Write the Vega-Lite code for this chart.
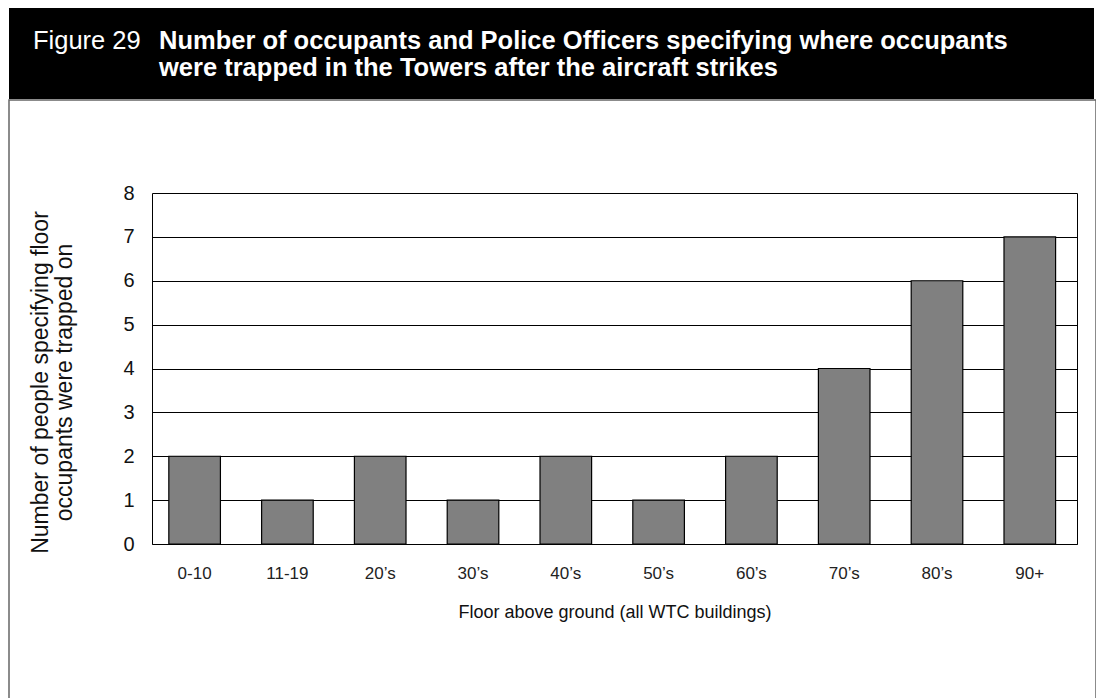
{
  "$schema": "https://vega.github.io/schema/vega-lite/v6.json",
  "padding": {"left": 8, "top": 8, "right": 0, "bottom": 0},
  "background": "white",
  "spacing": 0,
  "title": {"text": "Figure 29", "anchor": "start", "frame": "group", "offset": -46, "dx": 24, "color": "white", "font": "Liberation Sans", "fontSize": 25.5, "fontWeight": "normal"},
  "config": {"view": {"stroke": null}, "font": "Liberation Sans"},
  "datasets": {
    "floors": [
      {"floor": "0-10", "count": 2},
      {"floor": "11-19", "count": 1},
      {"floor": "20’s", "count": 2},
      {"floor": "30’s", "count": 1},
      {"floor": "40’s", "count": 2},
      {"floor": "50’s", "count": 1},
      {"floor": "60’s", "count": 2},
      {"floor": "70’s", "count": 4},
      {"floor": "80’s", "count": 6},
      {"floor": "90+", "count": 7}
    ]
  },
  "vconcat": [
    {
      "width": 1085,
      "height": 91,
      "view": {"fill": "black", "stroke": null},
      "data": {"values": [{"t": ""}]},
      "mark": {"type": "text"},
      "encoding": {"text": {"field": "t"}},
      "title": {
        "text": ["Number of occupants and Police Officers specifying where occupants", "were trapped in the Towers after the aircraft strikes"],
        "anchor": "start", "frame": "group", "offset": -73, "dx": 150,
        "color": "white", "font": "Liberation Sans", "fontSize": 25.5, "fontWeight": "bold", "lineHeight": 26.5
      }
    },
    {
      "width": 1087,
      "height": 600,
      "view": {"fill": "white", "stroke": "#666666", "strokeWidth": 1.5},
      "data": {"name": "floors"},
      "layer": [
        {
          "mark": {"type": "bar", "fill": "#808080", "stroke": "black", "strokeWidth": 1.2},
          "encoding": {
            "x": {
              "field": "floor", "type": "nominal", "sort": null,
              "scale": {"range": [143, 1068], "paddingInner": 0.444, "paddingOuter": 0.206, "align": 0.44},
              "axis": {
                "orient": "bottom", "offset": -156, "domain": true, "domainColor": "black", "domainWidth": 1,
                "ticks": false, "tickSize": 0, "labelPadding": 21, "labelFontSize": 17, "labelAngle": 0, "labelColor": "#222222",
                "grid": false,
                "title": "Floor above ground (all WTC buildings)", "titleFontSize": 18, "titleFontWeight": "normal", "titleColor": "#111111",
                "titleY": 73, "titleBaseline": "alphabetic"
              }
            },
            "y": {
              "field": "count", "type": "quantitative",
              "scale": {"domain": [0, 8], "range": [444, 93], "nice": false, "zero": true},
              "axis": {
                "orient": "left", "offset": -143, "domain": true, "domainColor": "black", "domainWidth": 1,
                "ticks": false, "tickSize": 0, "labelPadding": 18, "labelFontSize": 20, "labelColor": "#111111",
                "values": [0, 1, 2, 3, 4, 5, 6, 7, 8],
                "grid": true, "gridColor": "black", "gridWidth": 1, "gridOpacity": 1,
                "title": ["Number of people specifying floor", "occupants were trapped on"],
                "titleFontSize": 23, "titleFontWeight": "normal", "titleColor": "#111111",
                "titleX": -105, "titleY": 282, "titleBaseline": "alphabetic", "titleLineHeight": 24
              }
            }
          }
        },
        {
          "mark": {"type": "bar", "opacity": 0},
          "encoding": {
            "x": {"field": "floor", "type": "nominal", "sort": null},
            "y": {
              "field": "count", "type": "quantitative",
              "axis": {"orient": "right", "offset": -19, "domain": true, "domainColor": "black", "domainWidth": 1, "labels": false, "ticks": false, "grid": false, "title": null}
            }
          }
        }
      ],
      "resolve": {"axis": {"y": "independent"}}
    }
  ]
}
